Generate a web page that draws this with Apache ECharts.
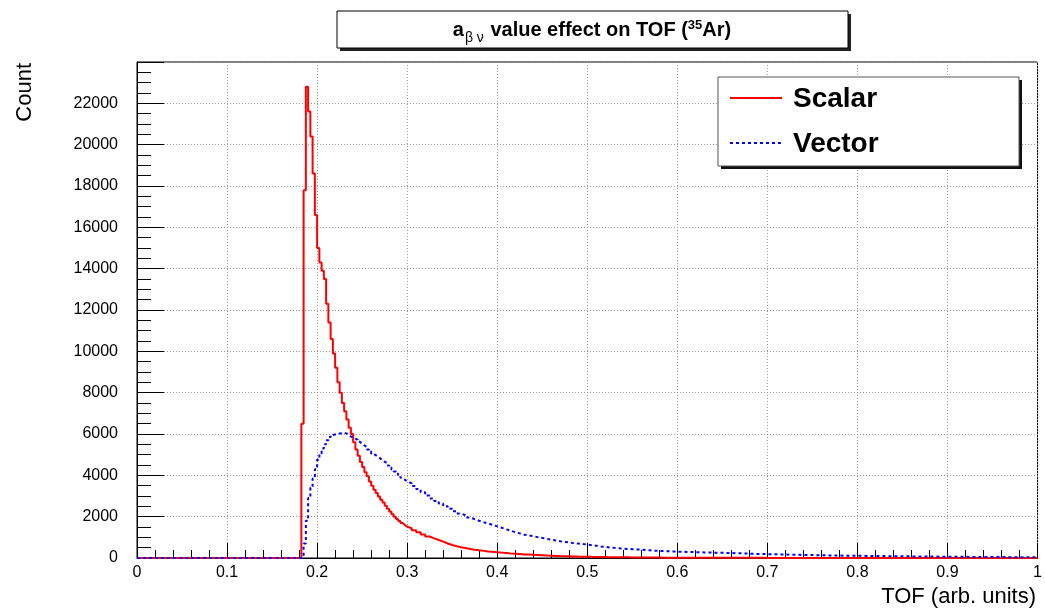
<!DOCTYPE html>
<html>
<head>
<meta charset="utf-8">
<script src="https://cdn.jsdelivr.net/npm/echarts@6/dist/echarts.min.js"></script>
<style>
  html, body { margin: 0; padding: 0; background: #fff; }
  #tof-chart { width: 1045px; height: 611px; }
</style>
</head>
<body>
<div id="tof-chart"></div>
<script>
// histogram bins: fine bins near the peak, coarser bins in the tail
var fineStart = 0.18, fineWidth = 0.0025;
var coarseStart = 0.30, coarseWidth = 0.005;

var scalarFine = [0, 6500, 17800, 22800, 21600, 20400, 18600, 16600, 15000, 14300,
  13900, 13500, 12300, 11400, 10600, 9900, 9200, 8500, 8000, 7500,
  7100, 6700, 6300, 6000, 5600, 5250, 4950, 4650, 4400, 4150,
  3950, 3700, 3500, 3300, 3150, 2980, 2820, 2680, 2530, 2380,
  2250, 2120, 2000, 1890, 1790, 1690, 1600, 1520];
var scalarCoarse = [1440, 1340, 1240, 1140, 1040, 950, 870, 790, 700, 630,
  570, 520, 480, 440, 400, 370, 345, 320, 300, 280,
  260, 240, 220, 205, 190, 175, 165, 155, 145, 135,
  120, 110, 100, 92, 86, 80, 74, 68, 64, 60,
  55, 51, 47, 44, 41, 38, 35, 33, 31, 29,
  27, 25, 23, 21, 20, 19, 18, 17, 16, 15,
  14, 14, 13, 13, 12, 12, 11, 11, 10, 10,
  9, 9, 9, 8, 8, 8, 7, 7, 7, 6,
  6, 6, 6, 5, 5, 5, 5, 5, 4, 4,
  4, 4, 4, 4, 3, 3, 3, 3, 3, 3,
  3, 3, 2, 2, 2, 2, 2, 2, 2, 2,
  2, 2, 2, 2, 1, 1, 1, 1, 1, 1,
  1, 1, 1, 1, 1, 1, 1, 1, 1, 1,
  1, 1, 1, 1, 1, 1, 1, 1, 1, 1];

var vectorFine = [0, 60, 700, 1800, 2900, 3400, 3850, 4300, 4750, 5050,
  5300, 5500, 5700, 5850, 5950, 5980, 6000, 6020, 6040, 6050,
  6030, 5950, 5880, 5820, 5780, 5720, 5620, 5530, 5450, 5380,
  5250, 5150, 5050, 4980, 4900, 4820, 4740, 4660, 4590, 4480,
  4380, 4280, 4180, 4080, 3980, 3880, 3790, 3700];
var vectorCoarse = [3620, 3480, 3340, 3180, 3020, 2880, 2760, 2640, 2500, 2380,
  2260, 2150, 2060, 1960, 1880, 1800, 1730, 1670, 1600, 1530,
  1460, 1390, 1320, 1250, 1190, 1130, 1100, 1050, 1010, 970,
  930, 890, 850, 810, 780, 750, 720, 700, 680, 650,
  620, 590, 560, 540, 510, 490, 470, 450, 440, 425,
  415, 400, 385, 370, 355, 345, 335, 325, 318, 310,
  302, 295, 288, 282, 276, 270, 265, 260, 255, 250,
  244, 238, 232, 226, 220, 212, 204, 196, 190, 186,
  182, 176, 170, 165, 160, 156, 152, 148, 145, 141,
  137, 133, 129, 125, 121, 118, 114, 111, 108, 106,
  104, 102, 100, 97, 94, 91, 88, 86, 84, 82,
  80, 78, 76, 74, 72, 70, 68, 66, 65, 63,
  61, 59, 57, 56, 54, 52, 50, 49, 48, 47,
  46, 44, 43, 42, 41, 40, 39, 38, 37, 35];

var seriesNames = ['Scalar', 'Vector'];
var seriesColors = ['#ff0000', '#0000ff'];

var xMin = 0, xMax = 1, xStep = 0.1;
var yMin = 0, yMax = 24000, yStep = 2000;

function histPoints(fine, coarse) {
  var pts = [[xMin, 0]];
  fine.forEach(function (v, i) { pts.push([fineStart + i * fineWidth, v]); });
  coarse.forEach(function (v, i) { pts.push([coarseStart + i * coarseWidth, v]); });
  pts.push([xMax, coarse[coarse.length - 1]]);
  return pts;
}

var font = 'Liberation Sans, Arial, Helvetica, sans-serif';
var myChart = echarts.init(document.getElementById('tof-chart'));

var gridLine = { show: true, lineStyle: { color: '#999', width: 1, type: [1, 2] } };

option = {
  animation: false,
  backgroundColor: '#fff',
  grid: {
    left: 137, right: 5, top: 62, bottom: 53,
    show: true, borderColor: '#000', borderWidth: 1
  },
  xAxis: {
    type: 'value', min: xMin, max: xMax, interval: xStep,
    axisLine: { onZero: false, lineStyle: { color: '#000' } },
    axisTick: { inside: true, length: 15, lineStyle: { color: '#000' } },
    minorTick: { show: true, splitNumber: 5, length: 8, lineStyle: { color: '#000' } },
    axisLabel: { fontFamily: font, fontSize: 16, color: '#000', margin: 7 },
    splitLine: gridLine
  },
  yAxis: {
    type: 'value', min: yMin, max: yMax, interval: yStep,
    axisLine: { show: true, lineStyle: { color: '#000' } },
    axisTick: { inside: true, length: 27, lineStyle: { color: '#000' } },
    minorTick: { show: true, splitNumber: 4, length: 14, lineStyle: { color: '#000' } },
    axisLabel: {
      fontFamily: font, fontSize: 16, color: '#000', margin: 19, showMaxLabel: false,
      formatter: function (v) { return String(v); }
    },
    splitLine: gridLine
  },
  series: [
    {
      name: seriesNames[0],
      type: 'line',
      step: 'end',
      showSymbol: false,
      symbol: 'none',
      lineStyle: { color: seriesColors[0], width: 2 },
      data: histPoints(scalarFine, scalarCoarse)
    },
    {
      name: seriesNames[1],
      type: 'line',
      step: 'end',
      showSymbol: false,
      symbol: 'none',
      lineStyle: { color: seriesColors[1], width: 2, type: [3, 3] },
      data: histPoints(vectorFine, vectorCoarse)
    }
  ],
  graphic: [
    // title box with drop shadow
    { type: 'rect', z: 3, shape: { x: 340, y: 14, width: 511, height: 37 }, style: { fill: '#222' } },
    { type: 'rect', z: 4, shape: { x: 337, y: 11, width: 511, height: 37 }, style: { fill: '#fff', stroke: '#000', lineWidth: 1 } },
    {
      type: 'text', z: 5, x: 592, y: 30,
      style: {
        text: '{t|a}{sub|β ν}{t| value effect on TOF (}{sup|35}{t|Ar)}',
        align: 'center', verticalAlign: 'middle',
        rich: {
          t: { fontFamily: font, fontSize: 20, fontWeight: 'bold', fill: '#000' },
          sub: { fontFamily: font, fontSize: 14, fill: '#000', padding: [16, 1, 0, 1] },
          sup: { fontFamily: font, fontSize: 13, fontWeight: 'bold', fill: '#000', padding: [0, 0, 10, 0] }
        }
      }
    },
    // legend box with drop shadow
    { type: 'rect', z: 3, shape: { x: 721, y: 80, width: 301, height: 89 }, style: { fill: '#111' } },
    { type: 'rect', z: 4, shape: { x: 718, y: 77, width: 301, height: 89 }, style: { fill: '#fff', stroke: '#555', lineWidth: 1 } },
    { type: 'line', z: 5, shape: { x1: 730, y1: 98, x2: 782, y2: 98 }, style: { stroke: seriesColors[0], lineWidth: 2 } },
    { type: 'line', z: 5, shape: { x1: 730, y1: 143, x2: 782, y2: 143 }, style: { stroke: seriesColors[1], lineWidth: 2, lineDash: [3, 3] } },
    {
      type: 'text', z: 5, x: 793, y: 99,
      style: { text: seriesNames[0], font: 'bold 28px ' + font, fill: '#000', align: 'left', verticalAlign: 'middle' }
    },
    {
      type: 'text', z: 5, x: 793, y: 144,
      style: { text: seriesNames[1], font: 'bold 28px ' + font, fill: '#000', align: 'left', verticalAlign: 'middle' }
    },
    // axis titles
    {
      type: 'text', z: 5, x: 25, y: 63, rotation: Math.PI / 2,
      style: { text: 'Count', font: '22px ' + font, fill: '#000', align: 'right', verticalAlign: 'middle' }
    },
    {
      type: 'text', z: 5, x: 1036, y: 597,
      style: { text: 'TOF (arb. units)', font: '22px ' + font, fill: '#000', align: 'right', verticalAlign: 'middle' }
    }
  ]
};
myChart.setOption(option);
</script>
</body>
</html>
